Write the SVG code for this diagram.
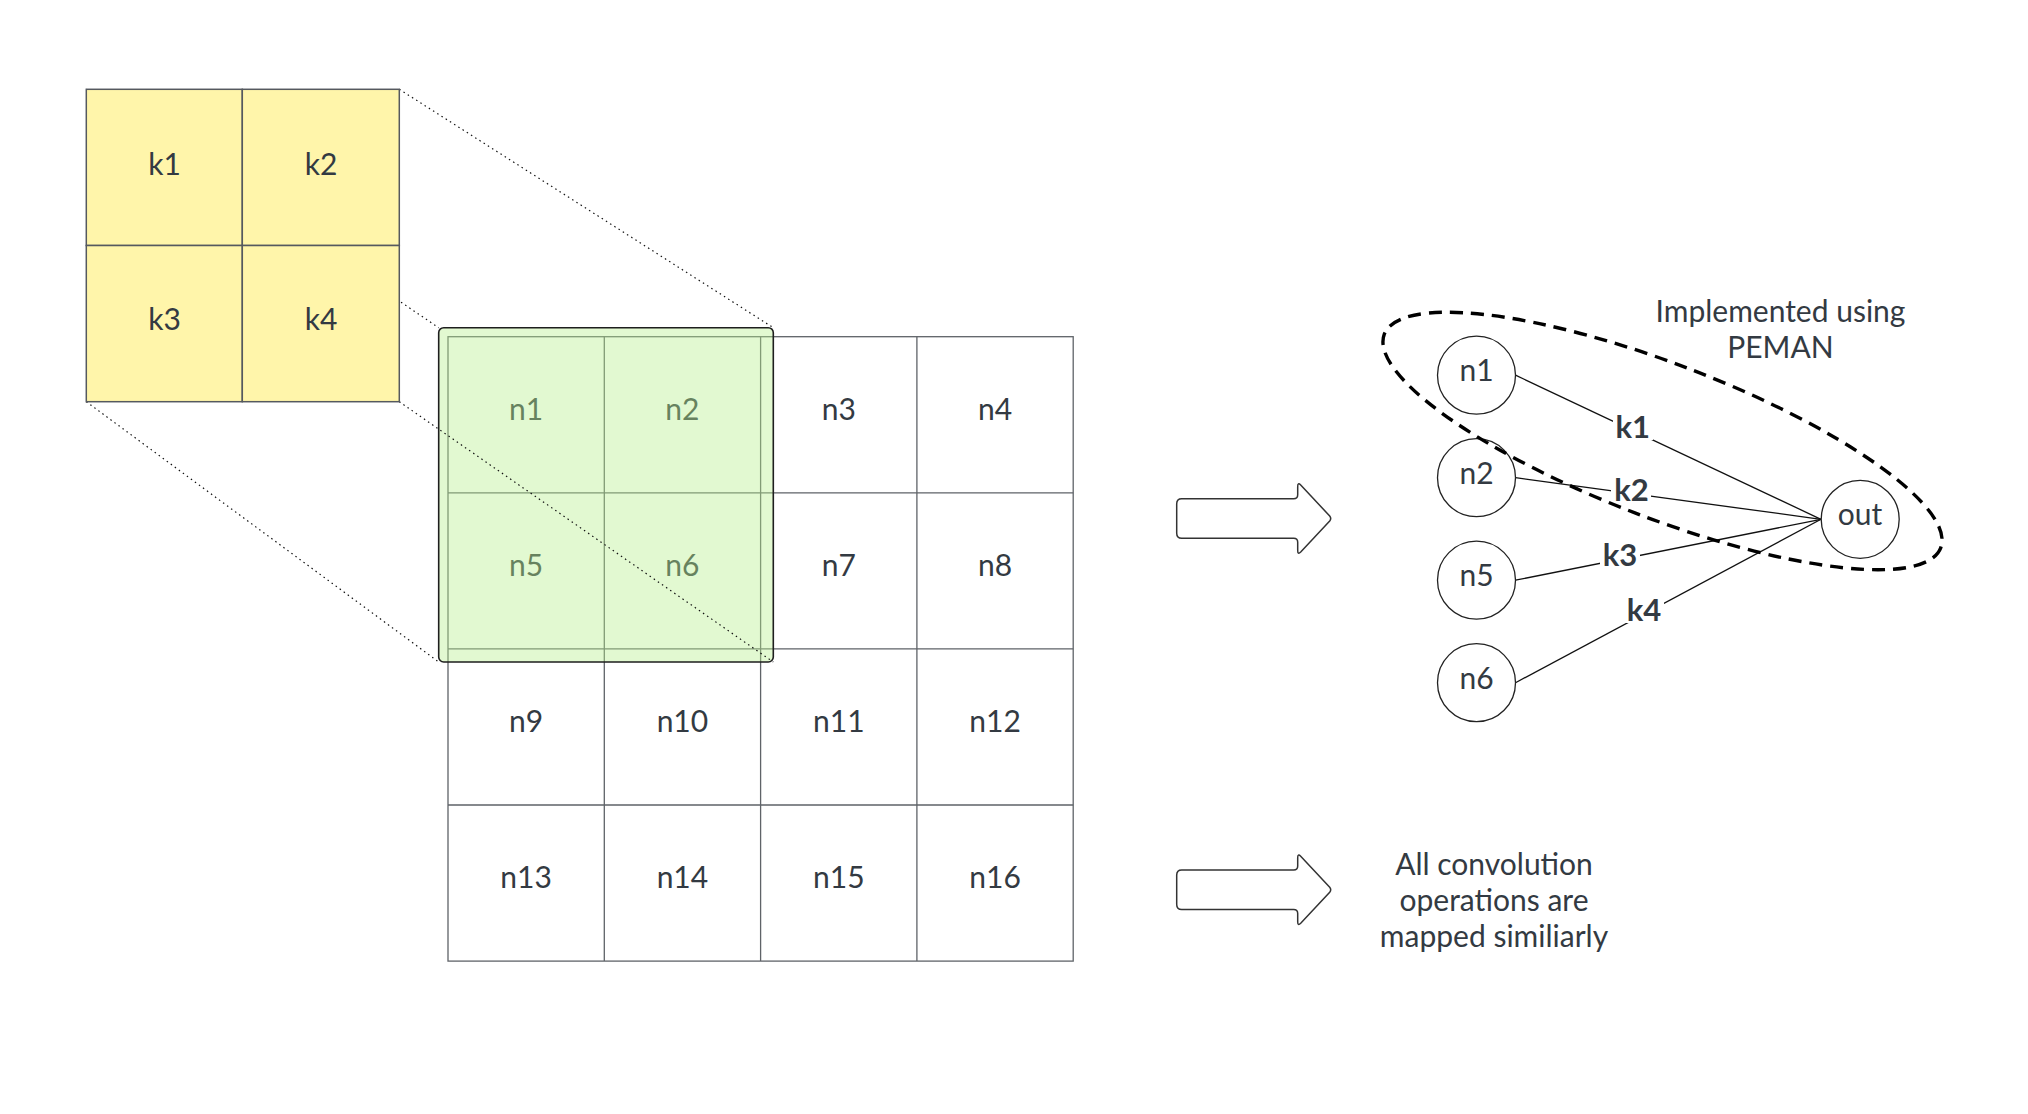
<svg xmlns="http://www.w3.org/2000/svg" width="2028" height="1114" viewBox="0 0 2028 1114">
<defs>
<style>
.t{font-family:Lato,"Liberation Sans",Arial,sans-serif;font-size:30px;fill:#333a42;text-anchor:middle}
.lb{font-family:Lato,"Liberation Sans",Arial,sans-serif;font-size:31px;font-weight:bold;fill:#333a42;text-anchor:middle}
.cell{fill:none;stroke:#5f6368;stroke-width:1.3}
.ycell{fill:#fff5aa;stroke:#55595f;stroke-width:1.5}
.dot{fill:none;stroke:#111;stroke-width:1.2;stroke-dasharray:1.5 3.5}
.circ{fill:#fff;stroke:#222;stroke-width:1.3}
.edge{stroke:#111;stroke-width:1.3;fill:none}
.arrow{fill:#fff;stroke:#333;stroke-width:1.5}
</style>
<path id="blk" d="M5,-19.8 L117,-19.8 Q121,-19.8 121,-23.8 L121,-32 Q121,-36.5 124,-33.5 L153,-2.5 Q155,0 153,2.5 L124,33.5 Q121,36.5 121,32 L121,23.8 Q121,19.8 117,19.8 L5,19.8 Q0,19.8 0,14.8 L0,-14.8 Q0,-19.8 5,-19.8 Z"/>
</defs>
<rect width="2028" height="1114" fill="#fff"/>

<g id="input-grid">
<rect class="cell" x="448" y="336.7" width="625.2" height="624.4"/>
<path class="cell" d="M604.3,336.7V961.1M760.6,336.7V961.1M916.9,336.7V961.1M448,492.8H1073.2M448,648.9H1073.2M448,805H1073.2"/>
<text class="t" x="526.1" y="420">n1</text>
<text class="t" x="682.4" y="420">n2</text>
<text class="t" x="838.8" y="420">n3</text>
<text class="t" x="995.1" y="420">n4</text>
<text class="t" x="526.1" y="576">n5</text>
<text class="t" x="682.4" y="576">n6</text>
<text class="t" x="838.8" y="576">n7</text>
<text class="t" x="995.1" y="576">n8</text>
<text class="t" x="526.1" y="732">n9</text>
<text class="t" x="682.4" y="732">n10</text>
<text class="t" x="838.8" y="732">n11</text>
<text class="t" x="995.1" y="732">n12</text>
<text class="t" x="526.1" y="888">n13</text>
<text class="t" x="682.4" y="888">n14</text>
<text class="t" x="838.8" y="888">n15</text>
<text class="t" x="995.1" y="888">n16</text>
</g>

<g id="window">
<rect x="438.7" y="327.7" width="334.6" height="334.3" rx="5" fill="#b6f08c" fill-opacity="0.4" stroke="#1e1e1e" stroke-width="1.6"/>
</g>

<g id="projection">
<line class="dot" x1="86.3" y1="89.3" x2="438.7" y2="327.7"/>
<line class="dot" x1="399.3" y1="89.3" x2="773.3" y2="327.7"/>
<line class="dot" x1="86.3" y1="401.7" x2="438.7" y2="662"/>
<line class="dot" x1="399.3" y1="401.7" x2="773.3" y2="662"/>
</g>

<g id="kernel">
<rect class="ycell" x="86.3" y="89.3" width="156" height="156.2"/>
<rect class="ycell" x="242.3" y="89.3" width="157" height="156.2"/>
<rect class="ycell" x="86.3" y="245.5" width="156" height="156.2"/>
<rect class="ycell" x="242.3" y="245.5" width="157" height="156.2"/>
<text class="t" x="164.5" y="174.5">k1</text>
<text class="t" x="321" y="174.5">k2</text>
<text class="t" x="164.5" y="330">k3</text>
<text class="t" x="321" y="330">k4</text>
</g>

<g id="arrow-1"><use href="#blk" class="arrow" transform="translate(1176.7,518.5)"/></g>
<g id="arrow-2"><use href="#blk" class="arrow" transform="translate(1176.7,889.7)"/></g>

<g id="connectors">
<line class="edge" x1="1515.5" y1="375.2" x2="1821" y2="519.3"/>
<line class="edge" x1="1515.5" y1="477.7" x2="1821" y2="519.3"/>
<line class="edge" x1="1515.5" y1="580.2" x2="1821" y2="519.3"/>
<line class="edge" x1="1515.5" y1="682.7" x2="1821" y2="519.3"/>
<rect x="1613" y="413" width="40" height="27" fill="#fff"/>
<text class="lb" x="1632.7" y="438">k1</text>
<rect x="1611" y="476" width="40" height="27" fill="#fff"/>
<text class="lb" x="1631.5" y="501">k2</text>
<rect x="1600" y="541" width="40" height="27" fill="#fff"/>
<text class="lb" x="1620" y="565.5">k3</text>
<rect x="1624" y="596" width="40" height="27" fill="#fff"/>
<text class="lb" x="1644" y="620.5">k4</text>
</g>

<g id="node-n1"><circle class="circ" cx="1476.5" cy="375.2" r="39"/><text class="t" x="1476.5" y="381">n1</text></g>
<g id="node-n2"><circle class="circ" cx="1476.5" cy="477.7" r="39"/><text class="t" x="1476.5" y="483.5">n2</text></g>
<g id="node-n5"><circle class="circ" cx="1476.5" cy="580.2" r="39"/><text class="t" x="1476.5" y="586">n5</text></g>
<g id="node-n6"><circle class="circ" cx="1476.5" cy="682.7" r="39"/><text class="t" x="1476.5" y="688.5">n6</text></g>
<g id="node-out"><circle class="circ" cx="1860.2" cy="519.3" r="39"/><text class="t" x="1860" y="524.5">out</text></g>

<g id="peman-group">
<ellipse cx="1662.5" cy="441" rx="298" ry="77" transform="rotate(21 1662.5 441)" fill="none" stroke="#000" stroke-width="3.4" stroke-dasharray="13 8"/>
<text class="t" x="1780.5" y="321.7">Implemented using</text>
<text class="t" x="1780.5" y="357.5">PEMAN</text>
</g>

<g id="note">
<text class="t" x="1494" y="875">All convolution</text>
<text class="t" x="1494" y="911">operations are</text>
<text class="t" x="1494" y="947">mapped similiarly</text>
</g>
</svg>
